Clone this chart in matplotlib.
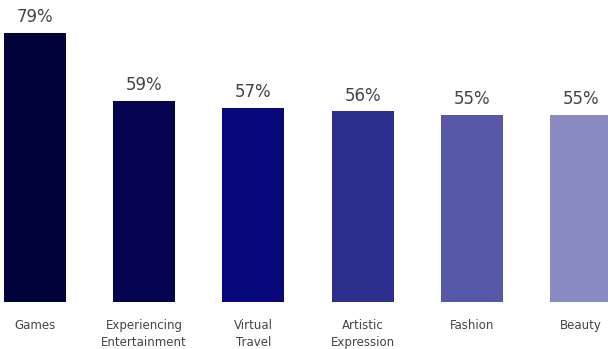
import matplotlib.pyplot as plt

# data
categories = ['Games', 'Experiencing\nEntertainment', 'Virtual\nTravel',
              'Artistic\nExpression', 'Fashion', 'Beauty']
values = [79, 59, 57, 56, 55, 55]
colors = ['#01013a', '#03034f', '#07077a', '#2e2e8f', '#5858a8', '#8b8bc4']

fig = plt.figure(figsize=(6.08, 3.49), dpi=100)
# axes covers the full width, bottom of bars at pixel ~302
ax = fig.add_axes([0, 47 / 349, 1, 302 / 349])

x = list(range(len(categories)))
ax.bar(x, values, width=0.568, color=colors, edgecolor='none')

for xi, v in zip(x, values):
    ax.text(xi, v + 2.0, '{0}%'.format(v), ha='center', va='bottom',
            fontsize=12, color='#444444')

ax.set_xlim(-35 / 109.2, (608 - 35) / 109.2)
ax.set_ylim(0, 88.7)
ax.set_xticks(x)
ax.set_xticklabels(categories, fontsize=8.5, color='#444444', linespacing=1.4)
ax.tick_params(axis='x', length=0, pad=12)
ax.set_yticks([])
for s in ax.spines.values():
    s.set_visible(False)

fig.savefig('out.png', dpi=100)
